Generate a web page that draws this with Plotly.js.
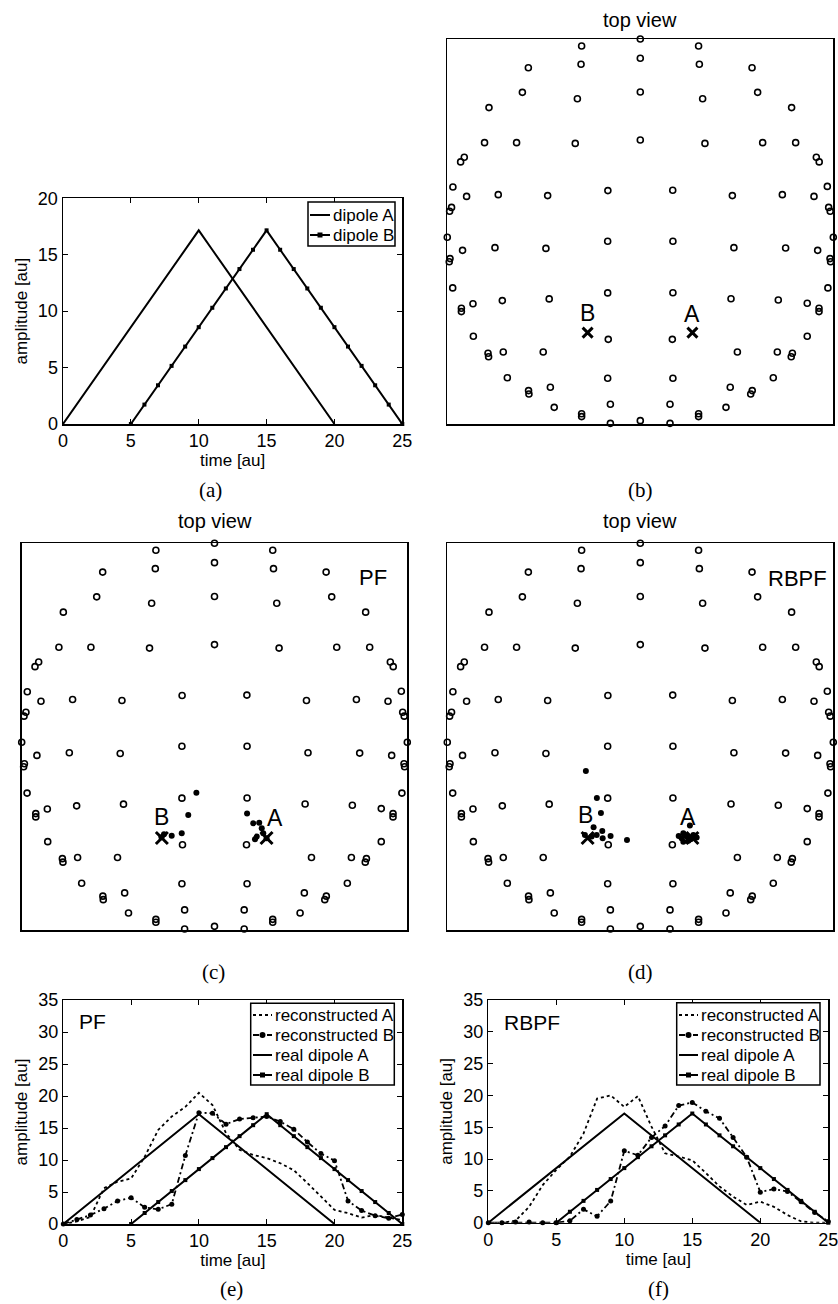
<!DOCTYPE html>
<html>
<head>
<meta charset="utf-8">
<script src="https://cdn.plot.ly/plotly-3.0.1.min.js"></script>
<style>html,body{margin:0;padding:0;background:#fff;}#chart{width:838px;height:1304px;}</style>
</head>
<body>
<div id="chart"></div>
<script>
// ---------- data ----------
const timeRealA = [0,1,2,3,4,5,6,7,8,9,10,11,12,13,14,15,16,17,18,19,20];
const ampRealA  = [0,1.72,3.43,5.15,6.86,8.58,10.3,12.01,13.73,15.44,17.16,15.44,13.73,12.01,10.3,8.58,6.86,5.15,3.43,1.72,0];
const timeRealB = [5,6,7,8,9,10,11,12,13,14,15,16,17,18,19,20,21,22,23,24,25];
const ampRealB  = [0,1.72,3.43,5.15,6.86,8.58,10.3,12.01,13.73,15.44,17.16,15.44,13.73,12.01,10.3,8.58,6.86,5.15,3.43,1.72,0];

const timeRec = [0,1,2,3,4,5,6,7,8,9,10,11,12,13,14,15,16,17,18,19,20,21,22,23,24,25];
const pfRecA   = [0,0.4,1.1,5.6,6.6,7.1,10.5,14.7,16.8,18.3,20.5,18.6,14.2,11.6,10.8,10.3,9.5,8.4,6.4,4.3,2.2,1.7,1.0,1.4,1.0,0.6];
const pfRecB   = [0,0.7,1.4,2.4,3.6,4.1,2.6,2.3,3.1,10.7,17.4,17.3,15.6,16.4,16.6,16.8,16.0,14.8,12.8,11.0,9.9,3.6,2.1,1.3,0.9,1.5];
const rbpfRecA = [0,0,0.3,2.5,5.9,8.3,10.4,14.0,19.5,20.0,18.2,19.9,15.1,10.9,10.4,9.8,7.8,5.7,4.1,2.8,3.3,2.5,1.2,0.2,0,0];
const rbpfRecB = [0,0,0.1,0.1,0,0,0.3,2.1,1.0,3.4,11.3,10.6,13.4,15.2,18.4,18.9,17.5,16.4,13.4,10.3,4.8,5.3,4.9,3.3,1.6,0.2];

const sensorX = [0,-30.4,30.2,0,-30.7,30.6,-58,57.9,-61.1,60.8,0,-32.6,32.3,-78.4,78.4,-80.7,-64.1,-33.7,0,33.5,63.4,80.5,
  -91.2,-93.1,91.2,92.7,-97.1,-90,-73.6,-48,-16.8,16.8,47.7,73.6,90,96.9,-97.8,-98.8,97.6,98.4,-100,100,
  -92.1,-75.3,-48.9,-16.9,16.9,48.5,75.3,91.9,-98.6,-99,98.3,98.6,-97.2,97.2,-86.7,-71.5,-47.2,-16.9,16.9,47,71.5,86.5,
  -92.7,-92.7,92.6,92.6,-86.5,86.5,-16.6,16.6,-78.9,-78.6,-71,-50.3,50.3,71,78.8,78.2,-68.9,-16.9,16.9,68.9,
  -57.9,-57.7,-46.6,46.6,58,57.2,-44.6,44.4,-15.5,15.4,-30.4,-30.4,30.2,30.2,-15.5,15.4,0,0];
const sensorY = [100,96.4,96.4,90,86.9,86.9,85.1,85.1,72.3,72.3,72.5,69,69,64.4,64.4,46.2,46.2,45.8,47.6,45.8,46.2,46.2,
  38.6,36.2,38.6,36.2,23.2,18.3,19.2,18.7,21.3,21.5,18.7,19.2,18.3,23.5,12.6,10.6,12.6,10.6,-2.9,-2.9,
  -9.7,-8.3,-8.7,-5,-5,-8.3,-8.5,-9.7,-14,-15.6,-14,-15.6,-29.2,-29.2,-37.4,-35.8,-34.9,-31.8,-31.7,-34.8,-35.5,-37.2,
  -39.8,-41.5,-39.8,-41.5,-54.3,-54.3,-55.9,-55.9,-63.1,-64.9,-62.5,-62.5,-62.5,-62.5,-63.1,-64.9,-75.8,-76.1,-76.1,-75.8,
  -82.5,-84.3,-80.8,-80.8,-82.5,-84.3,-91.2,-91.2,-89.6,-89.6,-94.5,-96,-94.5,-96,-99.5,-99.5,-98.1,-100.3];

const dipoleNames = ["B","A"];
const dipoleX = [-27.3, 27.0];
const dipoleY = [-52.4, -52.4];

const pfParticleX = [-9.4,-13.6,-17,-22.2,-26.2,-27.5,16.9,20.1,23.2,24.5,25.3,21.9,21,27];
const pfParticleY = [-29,-40.5,-50,-51.2,-50.5,-52,-39.7,-44.8,-44.5,-47.4,-50,-51.7,-53.1,-52.6];
const rbpfParticleX = [-28.2,-22.5,-20.4,-24.2,-19.7,-15.4,-19.5,-22.6,-25.2,-28.7,-6.9,25.7,19.9,22.3,24,22.3,24.9,27.5,26.1,29.2,21.4];
const rbpfParticleY = [-17.8,-31.7,-39.5,-46.9,-48.8,-51.4,-52.6,-50.9,-51.7,-50.9,-53.4,-46,-51.4,-50,-51.7,-54.3,-53.8,-50.9,-53.1,-52.1,-52.6];

const timeTicks = [0,5,10,15,20,25];
const ampTicksA = [0,5,10,15,20];
const ampTicksRec = [0,5,10,15,20,25,30,35];

const legendNamesA = ["dipole A","dipole B"];
const legendNamesRec = ["reconstructed A","reconstructed B","real dipole A","real dipole B"];

// ---------- styles ----------
const W = 838, H = 1304;
const FONT = "Liberation Sans, Arial, sans-serif";
const SERIF = "Liberation Serif, Times New Roman, serif";
const DASHDOT = "6px,3px,2px,3px";
const styleRecA  = {line:{color:'#000', width:1.8, dash:'dot'}, marker:null};
const styleRecB  = {line:{color:'#000', width:1.8, dash:DASHDOT}, marker:{symbol:'circle', size:5, color:'#000'}};
const styleRealA = {line:{color:'#000', width:2, dash:'solid'}, marker:null};
const styleRealB = {line:{color:'#000', width:2, dash:'solid'}, marker:{symbol:'square', size:4, color:'#000'}};

function xd(a,b){ return [a/W, b/W]; }
function yd(top,bot){ return [1-bot/H, 1-top/H]; }

function timeAxis(dom, anchor){
  return {domain: dom, anchor: anchor, range:[0,25], tickvals: timeTicks, ticks:'inside', ticklen:5,
    tickcolor:'#000', showline:true, mirror:'allticks', linecolor:'#000', linewidth:1.5, showgrid:false, zeroline:false,
    ticklabeloverflow:'allow',
    tickfont:{family:FONT, size:18, color:'#000'},
    title:{text:'time [au]', font:{family:FONT, size:17, color:'#000'}, standoff:4}};
}
function ampAxis(dom, anchor, rng, ticks){
  return {domain: dom, anchor: anchor, range: rng, tickvals: ticks, ticks:'inside', ticklen:5,
    tickcolor:'#000', showline:true, mirror:'allticks', linecolor:'#000', linewidth:1.5, showgrid:false, zeroline:false,
    ticklabeloverflow:'allow',
    tickfont:{family:FONT, size:18, color:'#000'},
    title:{text:'amplitude [au]', font:{family:FONT, size:17, color:'#000'}, standoff:6}};
}
function viewAxis(dom, anchor){
  return {domain: dom, anchor: anchor, range:[-100,100], showticklabels:false, ticks:'', showgrid:false,
    zeroline:false, showline:true, mirror:true, linecolor:'#000', linewidth:1.5, fixedrange:true};
}

const traces = [];
function lineTrace(x, y, xa, ya, name, st){
  const t = {x:x, y:y, xaxis:xa, yaxis:ya, name:name, mode: st.marker ? 'lines+markers' : 'lines',
    line: st.line, showlegend:false, cliponaxis:false};
  if (st.marker) t.marker = st.marker;
  traces.push(t);
}
// (a)
lineTrace(timeRealA, ampRealA, 'x','y', legendNamesA[0], styleRealA);
lineTrace(timeRealB, ampRealB, 'x','y', legendNamesA[1], styleRealB);

// top views
const views = [
  {xa:'x2', ya:'y2', px:null, py:null},
  {xa:'x3', ya:'y3', px:pfParticleX, py:pfParticleY},
  {xa:'x4', ya:'y4', px:rbpfParticleX, py:rbpfParticleY}
];
views.forEach(v => {
  traces.push({x: sensorX, y: sensorY, xaxis:v.xa, yaxis:v.ya, mode:'markers', showlegend:false, cliponaxis:false,
    name:'sensors', marker:{symbol:'circle-open', size:6, color:'#000', line:{width:1.6, color:'#000'}}});
  if (v.px) {
    traces.push({x: v.px, y: v.py, xaxis:v.xa, yaxis:v.ya, mode:'markers', showlegend:false, name:'particles',
      marker:{symbol:'circle', size:6, color:'#000'}});
  }
  traces.push({x: dipoleX, y: dipoleY, xaxis:v.xa, yaxis:v.ya, mode:'markers', showlegend:false, name:'dipoles',
    marker:{symbol:'x-thin', size: v.px ? 12 : 10, color:'#000', line:{width:3, color:'#000'}}});
});

// (e) and (f)
function recTraces(xa, ya, recA, recB){
  lineTrace(timeRec, recA, xa, ya, legendNamesRec[0], styleRecA);
  lineTrace(timeRec, recB, xa, ya, legendNamesRec[1], styleRecB);
  lineTrace(timeRealA, ampRealA, xa, ya, legendNamesRec[2], styleRealA);
  lineTrace(timeRealB, ampRealB, xa, ya, legendNamesRec[3], styleRealB);
}
recTraces('x5','y5', pfRecA, pfRecB);
recTraces('x6','y6', rbpfRecA, rbpfRecB);

// ---------- custom MATLAB-style legends ----------
const shapes = [];
const annotations = [];
function px(x){ return x/W; }
function py(y){ return 1-y/H; }
function drawLegend(box, sampleX0, sampleX1, textX, rowsY, names, styles){
  shapes.push({type:'rect', xref:'paper', yref:'paper', x0:px(box[0]), x1:px(box[1]), y0:py(box[3]), y1:py(box[2]),
    line:{color:'#000', width:1.5}, fillcolor:'#fff', layer:'above'});
  names.forEach((n,i) => {
    const st = styles[i], yy = py(rowsY[i]);
    shapes.push({type:'line', xref:'paper', yref:'paper', x0:px(sampleX0), x1:px(sampleX1), y0:yy, y1:yy,
      line:{color:'#000', width:st.line.width, dash:st.line.dash}, layer:'above'});
    if (st.marker) {
      const r = st.marker.size/2 + 0.5;
      shapes.push({type: st.marker.symbol === 'square' ? 'rect' : 'circle', xref:'paper', yref:'paper',
        xsizemode:'pixel', ysizemode:'pixel', xanchor:px((sampleX0+sampleX1)/2), yanchor:yy,
        x0:-r, x1:r, y0:-r, y1:r, fillcolor:'#000', line:{width:0}, layer:'above'});
    }
    annotations.push({text:n, x:px(textX), y:yy, xref:'paper', yref:'paper', showarrow:false,
      xanchor:'left', yanchor:'middle', font:{family:FONT, size:17, color:'#000'}});
  });
}
drawLegend([308,395,202,246], 310, 330, 331, [215,235], legendNamesA, [styleRealA, styleRealB]);
drawLegend([250.7,394.3,1003.3,1085], 253, 272, 273, [1015,1035,1055,1075], legendNamesRec,
  [styleRecA, styleRecB, styleRealA, styleRealB]);
drawLegend([676.7,820,1002.7,1085], 679, 698, 699, [1015,1035,1055,1075], legendNamesRec,
  [styleRecA, styleRecB, styleRealA, styleRealB]);

function txt(text, x, y, xref, yref, size, family, xanchor){
  return {text:text, x:x, y:y, xref:xref, yref:yref, showarrow:false, xanchor: xanchor||'center', yanchor:'middle',
    font:{family: family||FONT, size:size, color:'#000'}};
}

annotations.push(
  txt('top view', px(640.3), py(20), 'paper','paper', 20),
  txt('top view', px(214.5), py(521), 'paper','paper', 20),
  txt('top view', px(640.3), py(521), 'paper','paper', 20),
  txt(dipoleNames[0], -27.5, -42, 'x2','y2', 23),
  txt(dipoleNames[1], 26.6, -42.5, 'x2','y2', 23),
  txt(dipoleNames[0], -27.4, -41.4, 'x3','y3', 23),
  txt(dipoleNames[1], 31.5, -42.2, 'x3','y3', 23),
  txt(dipoleNames[0], -28.3, -40.5, 'x4','y4', 23),
  txt(dipoleNames[1], 24.9, -41.4, 'x4','y4', 23),
  txt('PF', 82.4, 82.4, 'x3','y3', 22),
  txt('RBPF', 81.5, 82, 'x4','y4', 22),
  txt('PF', 1.0, 31.7, 'x5','y5', 21, FONT, 'left'),
  txt('RBPF', 1.0, 31.5, 'x6','y6', 21, FONT, 'left'),
  txt('(a)', px(210), py(490), 'paper','paper', 21, SERIF),
  txt('(b)', px(640), py(490), 'paper','paper', 21, SERIF),
  txt('(c)', px(214), py(972), 'paper','paper', 21, SERIF),
  txt('(d)', px(640), py(972), 'paper','paper', 21, SERIF),
  txt('(e)', px(232), py(1289), 'paper','paper', 21, SERIF),
  txt('(f)', px(658), py(1289), 'paper','paper', 21, SERIF)
);

const layout = {
  width: W, height: H, margin:{l:0, r:0, t:0, b:0}, paper_bgcolor:'#fff', plot_bgcolor:'#fff',
  font:{family:FONT, color:'#000'},
  showlegend:false,
  xaxis: timeAxis(xd(63,402.3), 'y'),
  yaxis: ampAxis(yd(198.3,424), 'x', [0,20], ampTicksA),
  xaxis2: viewAxis(xd(447.3,833.3), 'y2'),
  yaxis2: viewAxis(yd(39,424.3), 'x2'),
  xaxis3: viewAxis(xd(21.7,407.3), 'y3'),
  yaxis3: viewAxis(yd(543.3,930), 'x3'),
  xaxis4: viewAxis(xd(447.3,833.3), 'y4'),
  yaxis4: viewAxis(yd(543.3,930), 'x4'),
  xaxis5: timeAxis(xd(63.3,402.3), 'y5'),
  yaxis5: ampAxis(yd(1000,1224), 'x5', [0,35], ampTicksRec),
  xaxis6: timeAxis(xd(488.3,828.3), 'y6'),
  yaxis6: ampAxis(yd(1000,1222.7), 'x6', [0,35], ampTicksRec),
  shapes: shapes,
  annotations: annotations
};

Plotly.newPlot('chart', traces, layout, {staticPlot:true, displayModeBar:false});
</script>
</body>
</html>
